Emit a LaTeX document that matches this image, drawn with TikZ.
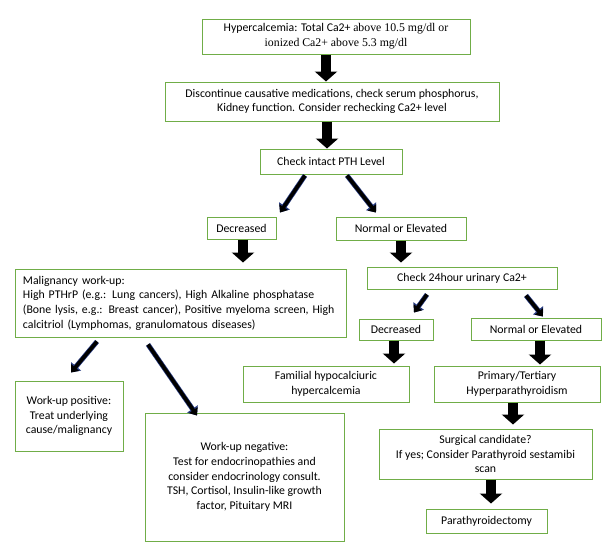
\documentclass[tikz,border=0pt]{standalone}
\usepackage{fontspec}
\setmainfont{Carlito}
\newfontfamily\tnr{Liberation Serif}
\usetikzlibrary{arrows.meta,calc}
\definecolor{boxgreen}{HTML}{70AD47}
\definecolor{navyarrow}{RGB}{40,60,130}
\begin{document}
\begin{tikzpicture}[x=1pt,y=-1pt,
  box/.style={draw=boxgreen,line width=1pt,inner sep=0pt,align=center,fill=white,
    font=\fontsize{11.8}{14.7}\selectfont},
  blockarrow/.style={line width=10.5pt,-{Triangle[width=22pt,length=10pt]},black},
  diagarrow/.style={line width=3.6pt,-{Triangle[width=10pt,length=6.5pt]},black,
    preaction={draw=navyarrow,line width=5pt,-{Triangle[width=12.5pt,length=8pt]}}}]
\useasboundingbox (0,0) rectangle (605,542);
\node[box,minimum width=268pt,minimum height=35pt] (top) at (336,36.5)
  {Hypercalcemia: Total Ca2+ {\tnr above 10.5 mg/dl or}\\{\tnr ionized Ca2+ above 5.3 mg/dl}};
\node[box,minimum width=334pt,minimum height=39pt] (disc) at (332,101.5)
  {Discontinue causative medications, check serum phosphorus,\\Kidney function. Consider rechecking Ca2+ level};
\node[box,minimum width=142pt,minimum height=25pt] (pth) at (331,161.5) {Check intact PTH Level};
\node[box,minimum width=69pt,minimum height=22pt] (dec1) at (241.5,228) {Decreased};
\node[box,minimum width=130pt,minimum height=23pt] (ne1) at (401,228.5) {Normal or Elevated};
\node[box,minimum width=331pt,minimum height=68pt,align=left,text width=315pt] (malig) at (180.5,303)
  {Malignancy work-up:\\High PTHrP (e.g.: Lung cancers), High Alkaline phosphatase\\(Bone lysis, e.g.: Breast cancer), Positive myeloma screen, High\\calcitriol (Lymphomas, granulomatous diseases)};
\node[box,minimum width=190pt,minimum height=22pt] (check24) at (462,278) {Check 24hour urinary Ca2+};
\node[box,minimum width=74pt,minimum height=21pt] (dec2) at (396,329.5) {Decreased};
\node[box,minimum width=130pt,minimum height=22pt] (ne2) at (536,329) {Normal or Elevated};
\node[box,minimum width=166pt,minimum height=36pt] (fam) at (326,384) {Familial hypocalciuric\\hypercalcemia};
\node[box,minimum width=166pt,minimum height=36pt] (prim) at (517,384) {Primary/Tertiary\\Hyperparathyroidism};
\node[box,minimum width=108pt,minimum height=70pt] (pos) at (69,416) {Work-up positive:\\Treat underlying\\cause/malignancy};
\node[box,minimum width=199pt,minimum height=128pt] (neg) at (244.5,477)
  {Work-up negative:\\Test for endocrinopathies and\\consider endocrinology consult.\\TSH, Cortisol, Insulin-like growth\\factor, Pituitary MRI};
\node[box,minimum width=213pt,minimum height=50pt] (surg) at (485.5,454)
  {Surgical candidate?\\If yes; Consider Parathyroid sestamibi\\scan};
\node[box,minimum width=121pt,minimum height=24pt] (parat) at (486.5,521) {Parathyroidectomy};
% block arrows
\draw[blockarrow] ($(top.south)+(-10,0)$) -- ($(disc.north)+(-6,0)$);
\draw[blockarrow] ($(disc.south)+(-5,0)$) -- ($(pth.north)+(-4,0)$);
\draw[blockarrow] ($(dec1.south)+(1.5,0)$) -- ($(malig.north)+(62.5,-6)$);
\draw[blockarrow] ($(ne1.south)+(0,0)$) -- ($(check24.north)+(-61,-4)$);
\draw[blockarrow] ($(dec2.south)+(-2,0)$) -- ($(fam.north)+(68,-2)$);
\draw[blockarrow] ($(ne2.south)+(4,0)$) -- ($(prim.north)+(23,-1)$);
\draw[blockarrow] ($(prim.south)+(-4,0)$) -- ($(surg.north)+(27.5,-4)$);
\draw[blockarrow] ($(surg.south)+(5.5,0)$) -- ($(parat.north)+(4.5,-5)$);
% diagonal arrows
\draw[diagarrow] ($(pth.south)+(-26,1)$) -- ($(dec1.north)+(38.5,-4)$);
\draw[diagarrow] ($(pth.south)+(16,1)$) -- ($(ne1.north)+(-25,-4)$);
\draw[diagarrow] ($(check24.south)+(-35,5)$) -- ($(dec2.north)+(18,-6)$);
\draw[diagarrow] ($(check24.south)+(64,6)$) -- ($(ne2.north)+(7,-1)$);
\draw[diagarrow] ($(malig.south)+(-83.5,4)$) -- ($(pos.north)+(2,-8)$);
\draw[diagarrow] ($(malig.south)+(-32.5,7)$) -- ($(neg.north)+(-47.5,3)$);
\end{tikzpicture}
\end{document}
